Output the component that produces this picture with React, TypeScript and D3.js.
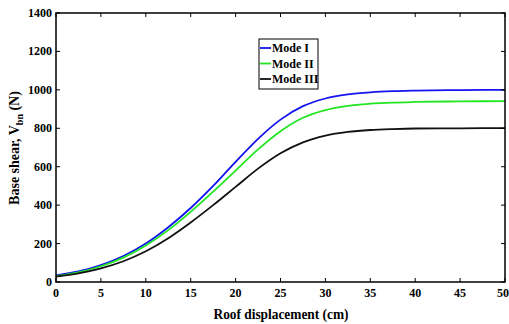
import React from "react";
import * as d3 from "d3";

const xs = [0, 2.5, 5, 7.5, 10, 12.5, 15, 17.5, 20, 22.5, 25, 27.5, 30, 32.5, 35, 37.5, 40, 45, 50];
const mode1 = [35, 55, 88, 135, 200, 285, 385, 500, 625, 745, 845, 915, 955, 976, 987, 993, 996, 999, 1000];
const mode2 = [30, 50, 82, 127, 190, 270, 365, 470, 580, 690, 785, 855, 895, 917, 928, 934, 937, 940, 941];
const mode3 = [28, 45, 71, 108, 160, 228, 310, 400, 495, 590, 670, 727, 762, 781, 791, 796, 799, 800, 801];
const seriesNames = ["Mode I", "Mode II", "Mode III"];
const seriesColors = ["#1414ee", "#22e622", "#111111"];
const xTicks = [0, 5, 10, 15, 20, 25, 30, 35, 40, 45, 50];
const yTicks = [0, 200, 400, 600, 800, 1000, 1200, 1400];

export default function App() {
  const W = 509, H = 324;
  const L = 56, R = 505, T = 13, B = 282;
  const x = d3.scaleLinear().domain([0, 50]).range([L, R]);
  const y = d3.scaleLinear().domain([0, 1400]).range([B, T]);
  const line = d3.line<number>().x((_, i) => x(xs[i])).y((d) => y(d)).curve(d3.curveMonotoneX);
  const series = [mode1, mode2, mode3];
  const font = "'Liberation Serif', 'Times New Roman', serif";
  return (
    <svg width={W} height={H} style={{ position: "absolute", left: 0, top: 0 }} fontFamily={font} fontWeight="bold">
      <rect x={0} y={0} width={W} height={H} fill="#fff" />
      {series.map((s, k) => (
        <path key={k} d={line(s) || ""} fill="none" stroke={seriesColors[k]} strokeWidth={1.8} />
      ))}
      <rect x={L} y={T} width={R - L} height={B - T} fill="none" stroke="#000" strokeWidth={1.5} />
      {xTicks.map((t) => (
        <g key={"x" + t}>
          <line x1={x(t)} x2={x(t)} y1={B} y2={B - 4} stroke="#000" strokeWidth={1} />
          <line x1={x(t)} x2={x(t)} y1={T} y2={T + 4} stroke="#000" strokeWidth={1} />
          <text x={t === 50 ? 509 : x(t)} y={297} textAnchor={t === 50 ? "end" : "middle"} fontSize={12}>{t}</text>
        </g>
      ))}
      {yTicks.map((t) => (
        <g key={"y" + t}>
          <line x1={L} x2={L + 4} y1={y(t)} y2={y(t)} stroke="#000" strokeWidth={1} />
          <line x1={R} x2={R - 4} y1={y(t)} y2={y(t)} stroke="#000" strokeWidth={1} />
          <text x={52} y={y(t) + 4} textAnchor="end" fontSize={12}>{t}</text>
        </g>
      ))}
      <text x={281} y={319} textAnchor="middle" fontSize={14} textLength={135} lengthAdjust="spacingAndGlyphs">Roof displacement (cm)</text>
      <text transform="translate(19,148) rotate(-90)" textAnchor="middle" fontSize={14}>
        Base shear, V<tspan fontSize={10} dy={4}>bn</tspan><tspan dy={-4}> (N)</tspan>
      </text>
      <rect x={259} y={39} width={59} height={50} fill="#fff" stroke="#000" strokeWidth={1} />
      {seriesNames.map((n, k) => (
        <g key={n}>
          <line x1={260} x2={271} y1={48 + k * 15.5} y2={48 + k * 15.5} stroke={seriesColors[k]} strokeWidth={1.8} />
          <text x={272} y={52 + k * 15.5} fontSize={12}>{n}</text>
        </g>
      ))}
    </svg>
  );
}
